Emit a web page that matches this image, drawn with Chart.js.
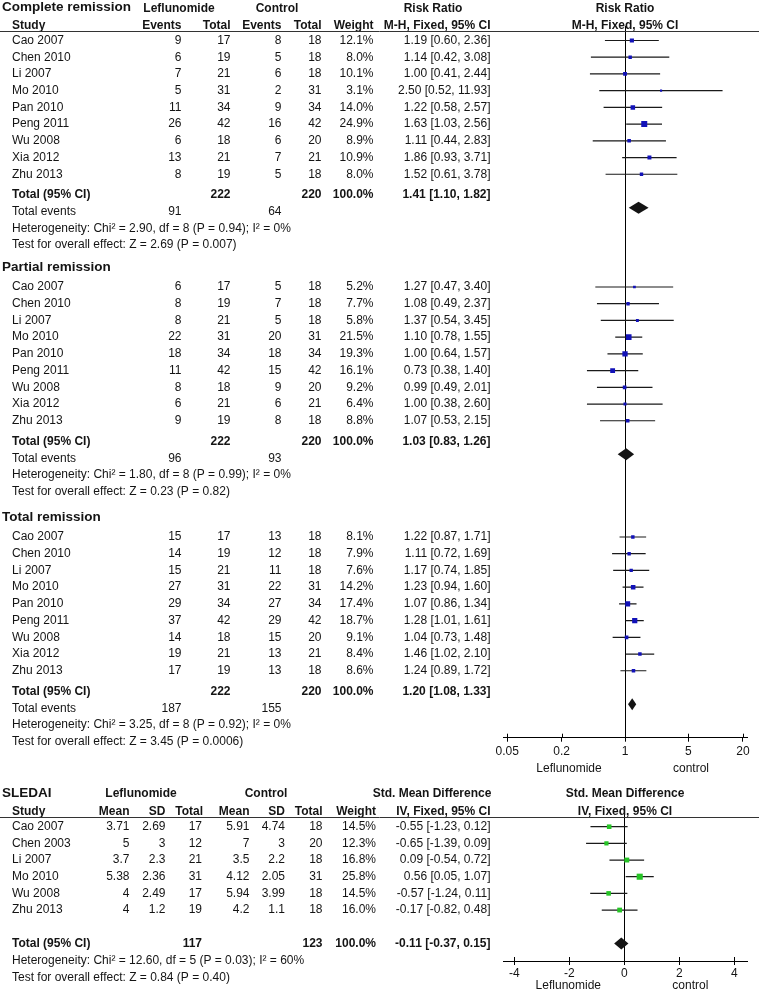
<!DOCTYPE html>
<html>
<head>
<meta charset="utf-8">
<script src="https://cdn.jsdelivr.net/npm/chart.js@4.4.0/dist/chart.umd.min.js"></script>
<style>
  html, body { margin: 0; padding: 0; background: #fff; }
  #wrap { position: relative; width: 759px; height: 993px; }
  #topBox { position: absolute; left: 0; top: 0; width: 759px; height: 775px; }
  #botBox { position: absolute; left: 0; top: 780px; width: 759px; height: 213px; }
</style>
</head>
<body>
<div id="wrap">
  <div id="topBox"><canvas id="rrChart"></canvas></div>
  <div id="botBox"><canvas id="smdChart"></canvas></div>
</div>
<script>
// ---- risk ratio data (same studies in all three outcomes) ----
const studies = ['Cao 2007', 'Chen 2010', 'Li 2007', 'Mo 2010', 'Pan 2010', 'Peng 2011', 'Wu 2008', 'Xia 2012', 'Zhu 2013'];
const lefTotal = [17, 19, 21, 31, 34, 42, 18, 21, 19];
const ctlTotal = [18, 18, 18, 31, 34, 42, 20, 21, 18];

const crLefEvents = [9, 6, 7, 5, 11, 26, 6, 13, 8];
const crCtlEvents = [8, 5, 6, 2, 9, 16, 6, 7, 5];
const crWeight = [12.1, 8.0, 10.1, 3.1, 14.0, 24.9, 8.9, 10.9, 8.0];
const crRR = [1.19, 1.14, 1.00, 2.50, 1.22, 1.63, 1.11, 1.86, 1.52];
const crLow = [0.60, 0.42, 0.41, 0.52, 0.58, 1.03, 0.44, 0.93, 0.61];
const crHigh = [2.36, 3.08, 2.44, 11.93, 2.57, 2.56, 2.83, 3.71, 3.78];

const prLefEvents = [6, 8, 8, 22, 18, 11, 8, 6, 9];
const prCtlEvents = [5, 7, 5, 20, 18, 15, 9, 6, 8];
const prWeight = [5.2, 7.7, 5.8, 21.5, 19.3, 16.1, 9.2, 6.4, 8.8];
const prRR = [1.27, 1.08, 1.37, 1.10, 1.00, 0.73, 0.99, 1.00, 1.07];
const prLow = [0.47, 0.49, 0.54, 0.78, 0.64, 0.38, 0.49, 0.38, 0.53];
const prHigh = [3.40, 2.37, 3.45, 1.55, 1.57, 1.40, 2.01, 2.60, 2.15];

const trLefEvents = [15, 14, 15, 27, 29, 37, 14, 19, 17];
const trCtlEvents = [13, 12, 11, 22, 27, 29, 15, 13, 13];
const trWeight = [8.1, 7.9, 7.6, 14.2, 17.4, 18.7, 9.1, 8.4, 8.6];
const trRR = [1.22, 1.11, 1.17, 1.23, 1.07, 1.28, 1.04, 1.46, 1.24];
const trLow = [0.87, 0.72, 0.74, 0.94, 0.86, 1.01, 0.73, 1.02, 0.89];
const trHigh = [1.71, 1.69, 1.85, 1.60, 1.34, 1.61, 1.48, 2.10, 1.72];

const outcomes = ['Complete remission', 'Partial remission', 'Total remission'];
const pooledRR = [1.41, 1.03, 1.20];
const pooledLow = [1.10, 0.83, 1.08];
const pooledHigh = [1.82, 1.26, 1.33];
const sumLefTotal = [222, 222, 222];
const sumCtlTotal = [220, 220, 220];
const sumLefEvents = [91, 96, 187];
const sumCtlEvents = [64, 93, 155];
const hetText = [
  'Heterogeneity: Chi\u00b2 = 2.90, df = 8 (P = 0.94); I\u00b2 = 0%',
  'Heterogeneity: Chi\u00b2 = 1.80, df = 8 (P = 0.99); I\u00b2 = 0%',
  'Heterogeneity: Chi\u00b2 = 3.25, df = 8 (P = 0.92); I\u00b2 = 0%',
];
const testText = [
  'Test for overall effect: Z = 2.69 (P = 0.007)',
  'Test for overall effect: Z = 0.23 (P = 0.82)',
  'Test for overall effect: Z = 3.45 (P = 0.0006)',
];
const rrTicks = [0.05, 0.2, 1, 5, 20];

// ---- SLEDAI data ----
const smdStudies = ['Cao 2007', 'Chen 2003', 'Li 2007', 'Mo 2010', 'Wu 2008', 'Zhu 2013'];
const smdLefMean = [3.71, 5, 3.7, 5.38, 4, 4];
const smdLefSD = [2.69, 3, 2.3, 2.36, 2.49, 1.2];
const smdLefTotal = [17, 12, 21, 31, 17, 19];
const smdCtlMean = [5.91, 7, 3.5, 4.12, 5.94, 4.2];
const smdCtlSD = [4.74, 3, 2.2, 2.05, 3.99, 1.1];
const smdCtlTotal = [18, 20, 18, 31, 18, 18];
const smdWeight = [14.5, 12.3, 16.8, 25.8, 14.5, 16.0];
const smdEst = [-0.55, -0.65, 0.09, 0.56, -0.57, -0.17];
const smdLow = [-1.23, -1.39, -0.54, 0.05, -1.24, -0.82];
const smdHigh = [0.12, 0.09, 0.72, 1.07, 0.11, 0.48];
const smdPooled = [-0.11, -0.37, 0.15];
const smdSumTotals = [117, 123];
const smdHet = 'Heterogeneity: Chi\u00b2 = 12.60, df = 5 (P = 0.03); I\u00b2 = 60%';
const smdTest = 'Test for overall effect: Z = 0.84 (P = 0.40)';
const smdTicks = [-4, -2, 0, 2, 4];

// ---- layout ----
const FONT = '"Liberation Sans", Arial, sans-serif';
const INK = '#141414';
const BLUE = '#1212b8';
const GREEN = '#26c426';
const ROW = 16.72;
const RR_FIRST = [40.5, 287, 537];
const RR_AXIS_Y = 737.7;
const RR_H = 775;
const SMD_FIRST = 46.7;
const SMD_ROW = 16.67;
const SMD_AXIS_Y = 181;
const SMD_H = 213;

const rrSections = [
  { ev1: crLefEvents, ev2: crCtlEvents, w: crWeight, est: crRR, lo: crLow, hi: crHigh },
  { ev1: prLefEvents, ev2: prCtlEvents, w: prWeight, est: prRR, lo: prLow, hi: prHigh },
  { ev1: trLefEvents, ev2: trCtlEvents, w: trWeight, est: trRR, lo: trLow, hi: trHigh },
];

const fmtCI = (e, l, h) => `${e.toFixed(2)} [${l.toFixed(2)}, ${h.toFixed(2)}]`;
const boxRadius = w => 0.85 * Math.sqrt(w);

function txt(ctx, s, x, y, align, bold, size) {
  ctx.font = (bold ? 'bold ' : '') + (size || 12) + 'px ' + FONT;
  ctx.textAlign = align || 'left';
  ctx.fillText(s, x, y);
}

function hline(ctx, x1, x2, y) {
  ctx.beginPath();
  ctx.moveTo(x1, Math.round(y) + 0.5);
  ctx.lineTo(x2, Math.round(y) + 0.5);
  ctx.stroke();
}

function drawDiamond(ctx, xs, lo, est, hi, py) {
  ctx.beginPath();
  ctx.moveTo(xs.getPixelForValue(lo), py);
  ctx.lineTo(xs.getPixelForValue(est), py - 6);
  ctx.lineTo(xs.getPixelForValue(hi), py);
  ctx.lineTo(xs.getPixelForValue(est), py + 6);
  ctx.closePath();
  ctx.fill();
}

// axis extras: upper half of the tick marks and the line of no effect
function axisExtras(ctx, chart, ticks, refValue, refTop) {
  const xs = chart.scales.x;
  const yb = chart.chartArea.bottom;
  ctx.strokeStyle = '#000';
  ctx.lineWidth = 1;
  ticks.forEach(v => {
    const px = Math.round(xs.getPixelForValue(v)) + 0.5;
    ctx.beginPath(); ctx.moveTo(px, yb - 4); ctx.lineTo(px, yb); ctx.stroke();
  });
  const rx = Math.round(xs.getPixelForValue(refValue)) + 0.5;
  ctx.beginPath(); ctx.moveTo(rx, refTop); ctx.lineTo(rx, yb); ctx.stroke();
}

// ---- top chart: risk ratios ----
const squarePts = [], squareR = [], ciPts = [];
rrSections.forEach((sec, s) => {
  studies.forEach((_, i) => {
    const yy = RR_FIRST[s] + i * ROW;
    squarePts.push({ x: sec.est[i], y: yy });
    squareR.push(boxRadius(sec.w[i]));
    ciPts.push({ x: sec.lo[i], y: yy }, { x: sec.hi[i], y: yy }, { x: 1, y: null });
  });
});

const rrTable = {
  id: 'rrTable',
  beforeDatasetsDraw(chart) {
    const ctx = chart.ctx;
    ctx.save();
    axisExtras(ctx, chart, rrTicks, 1, 26);
    ctx.restore();
  },
  afterDraw(chart) {
    const { ctx, chartArea } = chart;
    const xs = chart.scales.x, ys = chart.scales.y;
    const Y = v => ys.getPixelForValue(v);
    const cx = (chartArea.left + chartArea.right) / 2;
    ctx.save();
    ctx.fillStyle = INK;
    ctx.textBaseline = 'middle';

    // header
    txt(ctx, outcomes[0], 2, Y(7.5), 'left', true, 13.5);
    txt(ctx, 'Leflunomide', 179, Y(8.5), 'center', true);
    txt(ctx, 'Control', 277, Y(8.5), 'center', true);
    txt(ctx, 'Risk Ratio', 433, Y(8.5), 'center', true);
    txt(ctx, 'Risk Ratio', cx, Y(8.5), 'center', true);
    const h2 = Y(25.5);
    txt(ctx, 'Study', 12, h2, 'left', true);
    txt(ctx, 'Events', 181.5, h2, 'right', true);
    txt(ctx, 'Total', 230.5, h2, 'right', true);
    txt(ctx, 'Events', 281.5, h2, 'right', true);
    txt(ctx, 'Total', 321.5, h2, 'right', true);
    txt(ctx, 'Weight', 373.5, h2, 'right', true);
    txt(ctx, 'M-H, Fixed, 95% CI', 490.5, h2, 'right', true);
    txt(ctx, 'M-H, Fixed, 95% CI', cx, h2, 'center', true);
    ctx.strokeStyle = '#333';
    ctx.lineWidth = 1;
    hline(ctx, 0, 759, Y(31.5));

    rrSections.forEach((sec, s) => {
      const first = RR_FIRST[s];
      if (s > 0) txt(ctx, outcomes[s], 2, Y(first - 19.5), 'left', true, 13.5);
      studies.forEach((name, i) => {
        const yy = Y(first + i * ROW);
        txt(ctx, name, 12, yy, 'left');
        txt(ctx, String(sec.ev1[i]), 181.5, yy, 'right');
        txt(ctx, String(lefTotal[i]), 230.5, yy, 'right');
        txt(ctx, String(sec.ev2[i]), 281.5, yy, 'right');
        txt(ctx, String(ctlTotal[i]), 321.5, yy, 'right');
        txt(ctx, sec.w[i].toFixed(1) + '%', 373.5, yy, 'right');
        txt(ctx, fmtCI(sec.est[i], sec.lo[i], sec.hi[i]), 490.5, yy, 'right');
      });
      const ty = Y(first + 9 * ROW + 4);
      txt(ctx, 'Total (95% CI)', 12, ty, 'left', true);
      txt(ctx, String(sumLefTotal[s]), 230.5, ty, 'right', true);
      txt(ctx, String(sumCtlTotal[s]), 321.5, ty, 'right', true);
      txt(ctx, '100.0%', 373.5, ty, 'right', true);
      txt(ctx, fmtCI(pooledRR[s], pooledLow[s], pooledHigh[s]), 490.5, ty, 'right', true);
      const ey = Y(first + 10 * ROW + 4);
      txt(ctx, 'Total events', 12, ey, 'left');
      txt(ctx, String(sumLefEvents[s]), 181.5, ey, 'right');
      txt(ctx, String(sumCtlEvents[s]), 281.5, ey, 'right');
      txt(ctx, hetText[s], 12, Y(first + 11 * ROW + 4), 'left');
      txt(ctx, testText[s], 12, Y(first + 12 * ROW + 4), 'left');
      drawDiamond(ctx, xs, pooledLow[s], pooledRR[s], pooledHigh[s], Y(first + 10 * ROW));
    });

    const rx = xs.getPixelForValue(1);
    txt(ctx, 'Leflunomide', rx - 56, RR_AXIS_Y + 31, 'center');
    txt(ctx, 'control', rx + 66, RR_AXIS_Y + 31, 'center');
    ctx.restore();
  },
};

new Chart(document.getElementById('rrChart'), {
  type: 'scatter',
  data: {
    datasets: [
      { data: squarePts, pointStyle: 'rect', pointRadius: squareR, backgroundColor: BLUE, borderWidth: 0, order: 0 },
      { data: ciPts, showLine: true, pointRadius: 0, borderColor: '#1a1a1a', borderWidth: 1.2, spanGaps: false, order: 1 },
    ],
  },
  options: {
    responsive: true, maintainAspectRatio: false, animation: false, events: [],
    layout: { autoPadding: false, padding: { left: 503, right: 12, top: 0, bottom: 0 } },
    plugins: { legend: { display: false }, tooltip: { enabled: false } },
    scales: {
      x: {
        type: 'logarithmic', min: 0.045, max: 22.2,
        afterBuildTicks: s => { s.ticks = rrTicks.map(v => ({ value: v })); },
        afterFit: s => { s.height = RR_H - RR_AXIS_Y; },
        ticks: { color: INK, font: { family: FONT, size: 12 }, padding: 3, autoSkip: false, maxRotation: 0, callback: v => String(v) },
        grid: { drawOnChartArea: false, drawTicks: true, tickLength: 4, color: '#000', lineWidth: 1 },
        border: { display: true, color: '#000', width: 1 },
      },
      y: { type: 'linear', display: false, reverse: true, min: 0, max: RR_AXIS_Y },
    },
  },
  plugins: [rrTable],
});

// ---- bottom chart: SLEDAI standardised mean difference ----
const smdBoxes = smdEst.map((v, i) => ({ x: v, y: SMD_FIRST + i * SMD_ROW }));
const smdR = smdWeight.map(boxRadius);
const smdCI = [];
smdEst.forEach((_, i) => {
  const yy = SMD_FIRST + i * SMD_ROW;
  smdCI.push({ x: smdLow[i], y: yy }, { x: smdHigh[i], y: yy }, { x: 0, y: null });
});

const smdTable = {
  id: 'smdTable',
  beforeDatasetsDraw(chart) {
    const ctx = chart.ctx;
    ctx.save();
    axisExtras(ctx, chart, smdTicks, 0, 28);
    ctx.restore();
  },
  afterDraw(chart) {
    const { ctx, chartArea } = chart;
    const xs = chart.scales.x, ys = chart.scales.y;
    const Y = v => ys.getPixelForValue(v);
    const cx = (chartArea.left + chartArea.right) / 2;
    ctx.save();
    ctx.fillStyle = INK;
    ctx.textBaseline = 'middle';

    txt(ctx, 'SLEDAI', 2, Y(13.5), 'left', true, 13.5);
    txt(ctx, 'Leflunomide', 141, Y(14), 'center', true);
    txt(ctx, 'Control', 266, Y(14), 'center', true);
    txt(ctx, 'Std. Mean Difference', 432, Y(14), 'center', true);
    txt(ctx, 'Std. Mean Difference', cx, Y(14), 'center', true);
    const h2 = Y(31.5);
    txt(ctx, 'Study', 12, h2, 'left', true);
    txt(ctx, 'Mean', 129.5, h2, 'right', true);
    txt(ctx, 'SD', 165.5, h2, 'right', true);
    txt(ctx, 'Total', 203, h2, 'right', true);
    txt(ctx, 'Mean', 249.5, h2, 'right', true);
    txt(ctx, 'SD', 285, h2, 'right', true);
    txt(ctx, 'Total', 322.5, h2, 'right', true);
    txt(ctx, 'Weight', 376, h2, 'right', true);
    txt(ctx, 'IV, Fixed, 95% CI', 490.5, h2, 'right', true);
    txt(ctx, 'IV, Fixed, 95% CI', cx, h2, 'center', true);
    ctx.strokeStyle = '#333';
    ctx.lineWidth = 1;
    hline(ctx, 0, 759, Y(37));

    smdStudies.forEach((name, i) => {
      const yy = Y(SMD_FIRST + i * SMD_ROW);
      txt(ctx, name, 12, yy, 'left');
      txt(ctx, String(smdLefMean[i]), 129.5, yy, 'right');
      txt(ctx, String(smdLefSD[i]), 165.5, yy, 'right');
      txt(ctx, String(smdLefTotal[i]), 202, yy, 'right');
      txt(ctx, String(smdCtlMean[i]), 249.5, yy, 'right');
      txt(ctx, String(smdCtlSD[i]), 285, yy, 'right');
      txt(ctx, String(smdCtlTotal[i]), 322.5, yy, 'right');
      txt(ctx, smdWeight[i].toFixed(1) + '%', 376, yy, 'right');
      txt(ctx, fmtCI(smdEst[i], smdLow[i], smdHigh[i]), 490.5, yy, 'right');
    });
    const tyv = SMD_FIRST + 7 * SMD_ROW;
    const ty = Y(tyv);
    txt(ctx, 'Total (95% CI)', 12, ty, 'left', true);
    txt(ctx, String(smdSumTotals[0]), 202, ty, 'right', true);
    txt(ctx, String(smdSumTotals[1]), 322.5, ty, 'right', true);
    txt(ctx, '100.0%', 376, ty, 'right', true);
    txt(ctx, fmtCI(smdPooled[0], smdPooled[1], smdPooled[2]), 490.5, ty, 'right', true);
    txt(ctx, smdHet, 12, Y(tyv + 17), 'left');
    txt(ctx, smdTest, 12, Y(tyv + 34), 'left');
    drawDiamond(ctx, xs, smdPooled[1], smdPooled[0], smdPooled[2], ty);

    const rx = xs.getPixelForValue(0);
    txt(ctx, 'Leflunomide', rx - 56, SMD_AXIS_Y + 25, 'center');
    txt(ctx, 'control', rx + 66, SMD_AXIS_Y + 25, 'center');
    ctx.restore();
  },
};

new Chart(document.getElementById('smdChart'), {
  type: 'scatter',
  data: {
    datasets: [
      { data: smdBoxes, pointStyle: 'rect', pointRadius: smdR, backgroundColor: GREEN, borderWidth: 0, order: 0 },
      { data: smdCI, showLine: true, pointRadius: 0, borderColor: '#1a1a1a', borderWidth: 1.2, spanGaps: false, order: 1 },
    ],
  },
  options: {
    responsive: true, maintainAspectRatio: false, animation: false, events: [],
    layout: { autoPadding: false, padding: { left: 503, right: 12, top: 0, bottom: 0 } },
    plugins: { legend: { display: false }, tooltip: { enabled: false } },
    scales: {
      x: {
        type: 'linear', min: -4.41, max: 4.46,
        afterBuildTicks: s => { s.ticks = smdTicks.map(v => ({ value: v })); },
        afterFit: s => { s.height = SMD_H - SMD_AXIS_Y; },
        ticks: { color: INK, font: { family: FONT, size: 12 }, padding: 1, autoSkip: false, maxRotation: 0, callback: v => String(v) },
        grid: { drawOnChartArea: false, drawTicks: true, tickLength: 4, color: '#000', lineWidth: 1 },
        border: { display: true, color: '#000', width: 1 },
      },
      y: { type: 'linear', display: false, reverse: true, min: 0, max: SMD_AXIS_Y },
    },
  },
  plugins: [smdTable],
});
</script>
</body>
</html>
